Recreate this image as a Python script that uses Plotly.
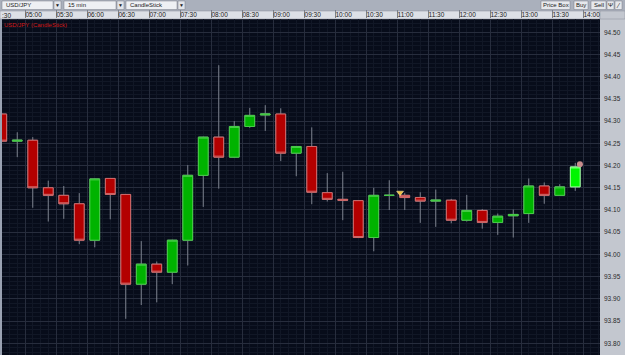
import plotly.graph_objects as go

# ---------------- data ----------------
day = "2012-06-12 "
times = ["04:30", "04:45", "05:00", "05:15", "05:30", "05:45", "06:00", "06:15",
         "06:30", "06:45", "07:00", "07:15", "07:30", "07:45", "08:00", "08:15",
         "08:30", "08:45", "09:00", "09:15", "09:30", "09:45", "10:00", "10:15",
         "10:30", "10:45", "11:00", "11:15", "11:30", "11:45", "12:00", "12:15",
         "12:30", "12:45", "13:00", "13:15", "13:30", "13:45"]
open_ = [94.316, 94.255, 94.257, 94.150, 94.133, 94.114, 94.032, 94.171,
         94.135, 93.933, 93.978, 93.960, 94.032, 94.178, 94.264, 94.219,
         94.288, 94.314, 94.316, 94.228, 94.243, 94.139, 94.124, 94.121,
         94.038, 94.133, 94.133, 94.128, 94.120, 94.122, 94.077, 94.099,
         94.072, 94.087, 94.092, 94.154, 94.133, 94.152]
high = [94.318, 94.275, 94.264, 94.166, 94.154, 94.138, 94.171, 94.172,
        94.136, 94.030, 93.984, 94.033, 94.201, 94.265, 94.426, 94.300,
        94.330, 94.336, 94.329, 94.244, 94.286, 94.183, 94.186, 94.122,
        94.150, 94.167, 94.138, 94.140, 94.146, 94.125, 94.134, 94.102,
        94.092, 94.101, 94.171, 94.162, 94.158, 94.206]
low = [94.254, 94.219, 94.105, 94.074, 94.080, 94.023, 94.016, 94.079,
       93.855, 93.886, 93.892, 93.933, 93.975, 94.107, 94.148, 94.218,
       94.285, 94.278, 94.210, 94.176, 94.113, 94.119, 94.077, 94.037,
       94.007, 94.100, 94.100, 94.071, 94.062, 94.070, 94.074, 94.058,
       94.044, 94.038, 94.071, 94.114, 94.133, 94.143]
close = [94.255, 94.257, 94.150, 94.133, 94.114, 94.032, 94.170, 94.135,
         93.933, 93.978, 93.960, 94.032, 94.178, 94.264, 94.219, 94.288,
         94.313, 94.316, 94.228, 94.243, 94.140, 94.124, 94.122, 94.038,
         94.133, 94.133, 94.128, 94.120, 94.122, 94.077, 94.099, 94.072,
         94.086, 94.090, 94.154, 94.133, 94.152, 94.197]

order_marker_time = ["11:03"]
order_marker_price = [94.139]
last_marker_time = ["13:57"]
last_marker_price = [94.203]

tick_labels = ["04:30", "05:00", "05:30", "06:00", "06:30", "07:00", "07:30",
               "08:00", "08:30", "09:00", "09:30", "10:00", "10:30", "11:00",
               "11:30", "12:00", "12:30", "13:00", "13:30", "14:00"]
price_ticks = [93.80, 93.85, 93.90, 93.95, 94.00, 94.05, 94.10, 94.15,
               94.20, 94.25, 94.30, 94.35, 94.40, 94.45, 94.50]
x_range = ["2012-06-12 04:37:44", "2012-06-12 14:16:27"]
y_range = [93.7735, 94.530]

# ---------------- styles ----------------
WICK = "#7c828e"
RED_FILL, RED_LINE = "#b30000", "#d06a6a"
GRN_FILL, GRN_LINE = "#00b300", "#48cc48"
LIME_FILL, LIME_LINE = "#00f500", "#9cff9c"
BG = "#070c1a"
FONT = "Liberation Sans"

x = [day + t for t in times]
body_hi = [max(o, c) for o, c in zip(open_, close)]
body_lo = [min(o, c) for o, c in zip(open_, close)]
PERIOD = 15 * 60 * 1000

fig = go.Figure()
# wicks (full OHLC in grey)
fig.add_trace(go.Candlestick(
    x=x, open=open_, high=high, low=low, close=close,
    xperiod=PERIOD, xperiodalignment="middle", whiskerwidth=0,
    increasing=dict(line=dict(color=WICK, width=1), fillcolor=WICK),
    decreasing=dict(line=dict(color=WICK, width=1), fillcolor=WICK),
    hoverinfo="skip", showlegend=False))
# bodies
fig.add_trace(go.Candlestick(
    x=x[:-1], open=open_[:-1], high=body_hi[:-1], low=body_lo[:-1], close=close[:-1],
    xperiod=PERIOD, xperiodalignment="middle", whiskerwidth=0,
    increasing=dict(line=dict(color=GRN_LINE, width=1), fillcolor=GRN_FILL),
    decreasing=dict(line=dict(color=RED_LINE, width=1), fillcolor=RED_FILL),
    hoverinfo="skip", showlegend=False))
# current (last) candle
fig.add_trace(go.Candlestick(
    x=x[-1:], open=open_[-1:], high=body_hi[-1:], low=body_lo[-1:], close=close[-1:],
    xperiod=PERIOD, xperiodalignment="middle", whiskerwidth=0,
    increasing=dict(line=dict(color=LIME_LINE, width=1), fillcolor=LIME_FILL),
    decreasing=dict(line=dict(color=LIME_LINE, width=1), fillcolor=LIME_FILL),
    hoverinfo="skip", showlegend=False))
fig.add_trace(go.Scatter(
    x=[day + t for t in order_marker_time], y=order_marker_price, mode="markers",
    marker=dict(symbol="triangle-down", size=6, color="#f2c040",
                line=dict(color="#fff0b0", width=0.5)),
    hoverinfo="skip", showlegend=False))
fig.add_trace(go.Scatter(
    x=[day + t for t in last_marker_time], y=last_marker_price, mode="markers",
    marker=dict(symbol="circle", size=6, color="#c88c8c"),
    hoverinfo="skip", showlegend=False))

W, H = 625, 355
L, R, T, B = 2, 25, 19, 0
PW, PH = W - L - R, H - T - B


def px(xp):
    return (xp - L) / PW


def py(yp):
    return (H - B - yp) / PH


shapes = []
annotations = []


def rect(x0, y0, x1, y1, fill, line=None, lw=1):
    shapes.append(dict(type="rect", xref="paper", yref="paper",
                       x0=px(x0), x1=px(x1), y0=py(y1), y1=py(y0),
                       fillcolor=fill, layer="below",
                       line=dict(color=line or fill, width=lw if line else 0)))


def text(xp, yp, s, color="#1a1a1a", size=7, anchor="left"):
    annotations.append(dict(xref="paper", yref="paper", x=px(xp), y=py(yp),
                            text=s, showarrow=False, xanchor=anchor, yanchor="middle",
                            font=dict(family=FONT, size=size, color=color)))


# toolbar + header row backgrounds
rect(0, 0, 625, 11, "#aab0bc")
rect(0, 11, 600, 19, "#dde0e6", "#8a8f9a", 0.5)
rect(600, 11, 625, 19, "#c3c7cf", "#8a8f9a", 0.5)
rect(0, 19, 2, 355, "#9aa2b2")
# dropdowns
for (bx0, bx1, ax0, ax1, label) in [(2, 53, 54, 61, "USD/JPY"),
                                    (64, 116, 117, 124, "15 min"),
                                    (126, 177, 178, 185, "CandleStick")]:
    rect(bx0, 1, bx1, 9.5, "#eef0f4", "#7a7f8a", 0.5)
    rect(ax0, 1, ax1, 9.5, "#e2e5ea", "#7a7f8a", 0.5)
    text(bx0 + 2, 5.3, label, size=6)
    text((ax0 + ax1) / 2, 5.3, "▼", size=5, anchor="center")
# buttons
for (bx0, bx1, label) in [(541, 570, "Price Box"), (574, 588, "Buy"),
                          (591, 606, "Sell")]:
    rect(bx0, 1, bx1, 9.5, "#e6e8ec", "#7a7f8a", 0.5)
    text((bx0 + bx1) / 2, 5.3, label, size=6, anchor="center")
rect(607, 1, 614, 9.5, "#e6e8ec", "#7a7f8a", 0.5)
rect(615, 1, 622, 9.5, "#e6e8ec", "#7a7f8a", 0.5)
text(610.5, 5.3, "Ψ", size=6, anchor="center")
text(618.5, 5.3, "⁄", size=7, anchor="center")
# partly hidden first header label (shows only ":30")
text(0, 15.0, ":30", size=6.5)
# chart title
annotations.append(dict(xref="paper", yref="paper", x=px(2), y=py(19.5),
                        text="USD/JPY (CandleStick)", showarrow=False,
                        xanchor="left", yanchor="top",
                        font=dict(family=FONT, size=6, color="#d01818")))

fig.update_layout(
    width=W, height=H, margin=dict(l=L, r=R, t=T, b=B, pad=0),
    paper_bgcolor="#c3c7cf", plot_bgcolor=BG, boxgap=0.1, boxmode="overlay",
    showlegend=False, font=dict(family=FONT, size=7, color="#1a1a1a"),
    shapes=shapes, annotations=annotations, hovermode=False)

fig.update_xaxes(
    type="date", range=x_range, side="top", rangeslider_visible=False,
    tickmode="array", tickvals=[day + t for t in tick_labels], ticktext=tick_labels,
    ticks="outside", ticklen=8, tickwidth=1, tickcolor="#7a7f8a",
    ticklabelposition="outside right", ticklabelstandoff=-2,
    tickfont=dict(family=FONT, size=6.5, color="#1a1a1a"),
    showgrid=True, gridcolor="#272d3d", gridwidth=1,
    minor=dict(dtick=PERIOD / 2, tick0=day + "04:30", showgrid=True,
               gridcolor="#111726", gridwidth=1),
    zeroline=False, showline=False, fixedrange=True)

fig.update_yaxes(
    range=y_range, side="right", tickmode="array", tickvals=price_ticks,
    tickformat=".2f", ticks="", ticklabelstandoff=3,
    tickfont=dict(family=FONT, size=6.5, color="#2a2a2a"),
    showgrid=True, gridcolor="#272d3d", gridwidth=1,
    minor=dict(dtick=0.01, tick0=93.80, showgrid=True, gridcolor="#111726", gridwidth=1),
    zeroline=False, showline=False, fixedrange=True)

fig.write_html("out.html")
